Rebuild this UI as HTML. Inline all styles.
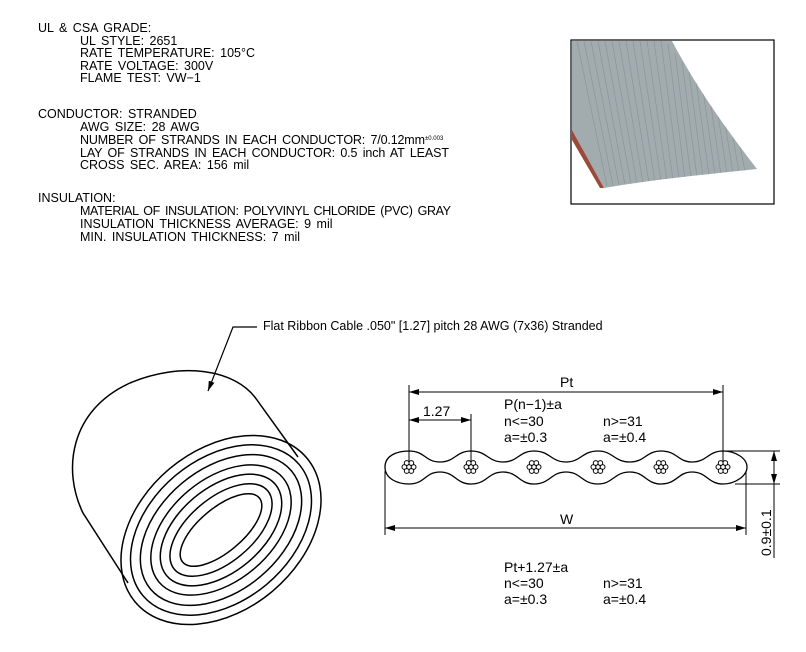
<!DOCTYPE html>
<html><head><meta charset="utf-8"><style>
html,body{margin:0;padding:0;background:#fff;}
svg{display:block;}
text{font-family:"Liberation Sans",sans-serif;fill:#000;}
</style></head><body>
<svg width="806" height="652" viewBox="0 0 806 652" xmlns="http://www.w3.org/2000/svg">
<defs>
<marker id="ar" markerWidth="10" markerHeight="6" refX="10" refY="3" orient="auto-start-reverse" markerUnits="userSpaceOnUse">
<path d="M0,0 L10,3 L0,6 Z" fill="#000"/></marker>
<g id="strand" fill="#fff" stroke="#000" stroke-width="1">
<circle cx="0" cy="0" r="2.4"/><circle cx="4.6" cy="0" r="2.4"/><circle cx="-4.6" cy="0" r="2.4"/>
<circle cx="2.3" cy="4" r="2.4"/><circle cx="-2.3" cy="4" r="2.4"/><circle cx="2.3" cy="-4" r="2.4"/><circle cx="-2.3" cy="-4" r="2.4"/>
</g>
<clipPath id="cab"><path d="M572,41 L672,41 C690,75 715,115 757,169 C700,175 650,180 604,188 L572,130 Z"/></clipPath>
</defs>
<g font-size="12.5" style="word-spacing:2px">
<text x="38" y="32">UL &amp; CSA GRADE:</text>
<text x="80" y="45">UL STYLE: 2651</text>
<text x="80" y="57">RATE TEMPERATURE: 105°C</text>
<text x="80" y="70">RATE VOLTAGE: 300V</text>
<text x="80" y="82">FLAME TEST: VW−1</text>
<text x="38" y="118">CONDUCTOR:  STRANDED</text>
<text x="80" y="131">AWG SIZE: 28 AWG</text>
<text x="80" y="144" textLength="345" lengthAdjust="spacing">NUMBER OF STRANDS IN EACH CONDUCTOR: 7/0.12mm</text>
<text x="425" y="140" font-size="6">±0.003</text>
<text x="80" y="157" textLength="369" lengthAdjust="spacing">LAY OF STRANDS IN EACH CONDUCTOR: 0.5 inch AT LEAST</text>
<text x="80" y="169">CROSS SEC. AREA: 156 mil</text>
<text x="38" y="202">INSULATION:</text>
<text x="80" y="215" textLength="371" lengthAdjust="spacing">MATERIAL OF INSULATION: POLYVINYL CHLORIDE (PVC) GRAY</text>
<text x="80" y="228">INSULATION THICKNESS AVERAGE: 9 mil</text>
<text x="80" y="241">MIN. INSULATION THICKNESS: 7 mil</text>
</g>
<!-- photo -->
<rect x="571" y="40" width="203" height="164" fill="#fff" stroke="#000" stroke-width="1.2"/>
<path d="M572,41 L672,41 C690,75 715,115 757,169 C700,175 650,180 604,188 L572,130 Z" fill="#a2acaf"/>
<path d="M572,130 L604,188 L600,188 L572,140 Z" fill="#9a4a3a"/>
<g stroke="#8a9598" stroke-width="0.7" clip-path="url(#cab)">
<path d="M577,41 L607,186 M584,41 L613,186 M591,41 L619,185 M598,41 L625,185 M605,41 L631,184 M612,41 L637,184 M619,41 L643,183 M626,41 L649,183 M633,41 L655,182 M640,41 L661,181 M647,41 L667,181 M654,41 L673,180 M661,41 L679,179 M668,44 L685,179 M675,53 L691,178 M682,62 L697,177 M689,72 L703,177 M696,81 L709,176 M703,90 L715,175 M710,99 L721,175 M717,108 L727,174 M724,117 L733,173 M731,126 L739,172 M738,136 L745,171"/>
</g>
<!-- leader -->
<text x="263" y="330" font-size="12.5">Flat Ribbon Cable .050" [1.27] pitch 28 AWG (7x36) Stranded</text>
<path d="M257,327 L233,327 L208,391" fill="none" stroke="#000" stroke-width="1.2" marker-end="url(#ar)"/>
<!-- coil -->
<path d="M128,583 L83,513 C62,470 70,410 130,383 C180,362 235,368 257,400 L298,457" fill="none" stroke="#000" stroke-width="1.5"/>
<g fill="none" stroke="#000" stroke-width="1.5" transform="translate(221,530) rotate(-40)">
<ellipse rx="112" ry="80"/><ellipse rx="102" ry="71"/><ellipse rx="92" ry="61"/><ellipse rx="81" ry="51"/><ellipse rx="71" ry="42"/><ellipse rx="61" ry="32"/><ellipse rx="50" ry="22"/>
</g>
<!-- ribbon -->
<g fill="none" stroke="#000" stroke-width="1.3">
<path d="M385,467 C385,455 398,451 409,451 C425,451 425,462 440,462 C455,462 456,451 471,451 C487,451 488,462 503,462 C518,462 519,451 534,451 C550,451 551,462 566,462 C581,462 582,451 598,451 C613,451 614,462 630,462 C645,462 646,451 661,451 C677,451 678,462 692,462 C707,462 708,451 723,451 C735,451 747,458 747,467 C747,476 735,484 723,484 C708,484 707,472 692,472 C678,472 677,484 661,484 C646,484 645,472 630,472 C614,472 613,484 598,484 C582,484 581,472 566,472 C551,472 550,484 534,484 C519,484 518,472 503,472 C488,472 487,484 471,484 C456,484 455,472 440,472 C425,472 425,484 409,484 C398,484 385,479 385,467 Z"/>
</g>
<g stroke="#000" stroke-width="1">
<line x1="409" y1="385" x2="409" y2="467"/><line x1="723" y1="385" x2="723" y2="467"/>
<line x1="471" y1="414" x2="471" y2="467"/>
<line x1="385" y1="471" x2="385" y2="535"/><line x1="746" y1="472" x2="746" y2="535"/>
<line x1="723" y1="451" x2="780" y2="451"/><line x1="735" y1="484" x2="780" y2="484"/>
<line x1="774" y1="484" x2="774" y2="558"/>
<line x1="409" y1="392" x2="723" y2="392" marker-start="url(#ar)" marker-end="url(#ar)"/>
<line x1="409" y1="420" x2="471" y2="420" marker-start="url(#ar)" marker-end="url(#ar)"/>
<line x1="385" y1="528" x2="746" y2="528" marker-start="url(#ar)" marker-end="url(#ar)"/>
<line x1="774" y1="451" x2="774" y2="484" marker-start="url(#ar)" marker-end="url(#ar)"/>
</g>
<use href="#strand" x="409" y="467"/><use href="#strand" x="471" y="467"/><use href="#strand" x="534" y="467"/>
<use href="#strand" x="598" y="467"/><use href="#strand" x="661" y="467"/><use href="#strand" x="723" y="467"/>
<g font-size="14">
<text x="560" y="387">Pt</text>
<text x="423" y="416">1.27</text>
<text x="504" y="409">P(n−1)±a</text>
<text x="504" y="426">n&lt;=30</text><text x="603" y="426">n&gt;=31</text>
<text x="504" y="442">a=±0.3</text><text x="603" y="442">a=±0.4</text>
<text x="560" y="524">W</text>
<text x="504" y="572">Pt+1.27±a</text>
<text x="504" y="588">n&lt;=30</text><text x="603" y="588">n&gt;=31</text>
<text x="504" y="604">a=±0.3</text><text x="603" y="604">a=±0.4</text>
<text transform="translate(771,556) rotate(-90)">0.9±0.1</text>
</g>
</svg>
</body></html>
